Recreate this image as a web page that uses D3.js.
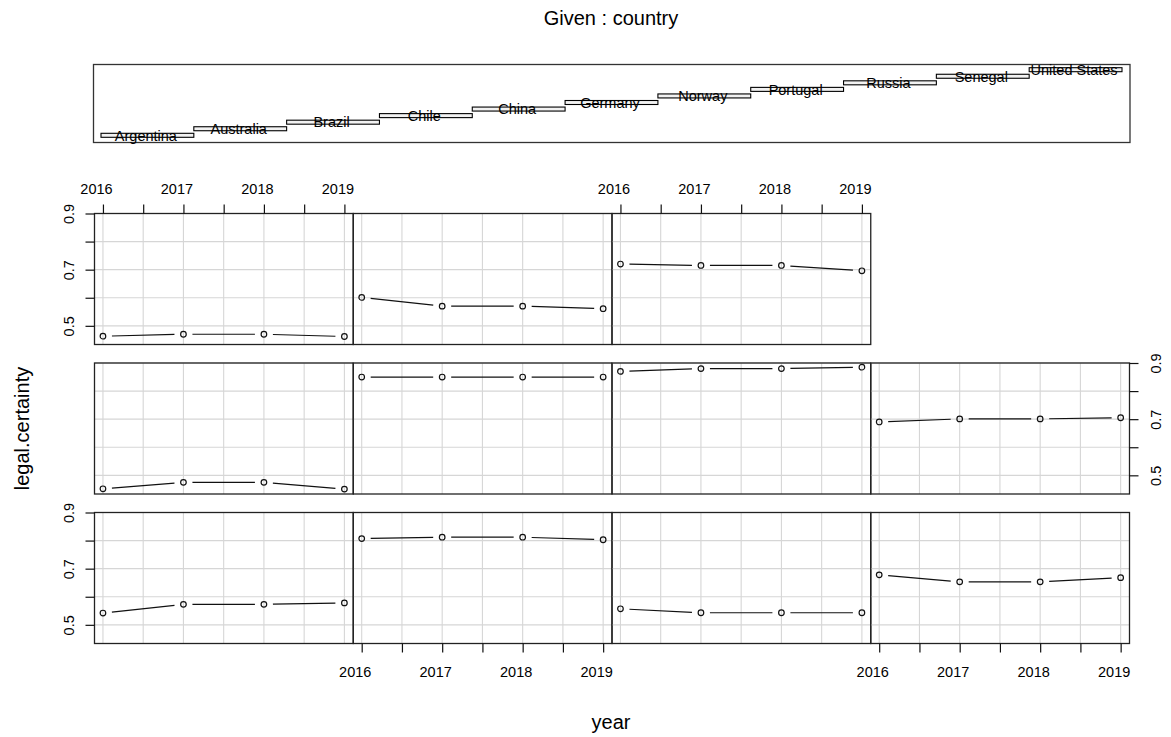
<!DOCTYPE html>
<html>
<head>
<meta charset="utf-8">
<script src="https://cdn.jsdelivr.net/npm/d3@7"></script>
<style>
  html, body { margin: 0; padding: 0; background: #fff; }
  svg { display: block; font-family: "Liberation Sans", Arial, sans-serif; }
</style>
</head>
<body>
<svg id="chart" width="1171" height="737"></svg>
<script>
// Conditioning levels (panel order: bottom-left → right, then upward)
const countries = ["Argentina", "Australia", "Brazil", "Chile", "China", "Germany",
                   "Norway", "Portugal", "Russia", "Senegal", "United States"];
const years = [2016, 2017, 2018, 2019];

// legal.certainty by year, one array per country
const argentina    = [0.542, 0.573, 0.573, 0.578];
const australia    = [0.807, 0.812, 0.812, 0.803];
const brazil       = [0.557, 0.543, 0.543, 0.543];
const chile        = [0.678, 0.653, 0.653, 0.668];
const china        = [0.452, 0.475, 0.475, 0.451];
const germany      = [0.850, 0.850, 0.850, 0.850];
const norway       = [0.870, 0.880, 0.880, 0.885];
const portugal     = [0.690, 0.701, 0.701, 0.705];
const russia       = [0.463, 0.470, 0.470, 0.462];
const senegal      = [0.601, 0.570, 0.570, 0.561];
const unitedStates = [0.720, 0.715, 0.715, 0.696];

const seriesList = [argentina, australia, brazil, chile, china, germany,
                    norway, portugal, russia, senegal, unitedStates];

// Axis ticks
const xTicks = [2016, 2016.5, 2017, 2017.5, 2018, 2018.5, 2019];
const xLabels = [2016, 2017, 2018, 2019];
const yTicks = [0.5, 0.6, 0.7, 0.8, 0.9];
const yLabels = [0.5, 0.7, 0.9];

const svg = d3.select("#chart");
const FONT = 14.5;
const INK = "#000";

// ---- layout ----
const nCols = 4;
const plotLeft = 94.5, plotRight = 1129.5;
const colW = (plotRight - plotLeft) / nCols;
const rowTops = [213.5, 363, 512.5];   // top, middle, bottom row
const rowH = 131;

const x = d3.scaleLinear().domain([2015.895, 2019.11]).range([0, colW]);
const y = d3.scaleLinear().domain([0.4335, 0.9]).range([rowH, 0]);

// ---- titles ----
svg.append("text").attr("x", 611).attr("y", 25).attr("text-anchor", "middle")
  .attr("font-size", 20).attr("fill", INK).text("Given : country");
svg.append("text").attr("x", 611).attr("y", 729).attr("text-anchor", "middle")
  .attr("font-size", 20).attr("fill", INK).text("year");
svg.append("text").attr("transform", "translate(29,428.5) rotate(-90)")
  .attr("text-anchor", "middle").attr("font-size", 20).attr("fill", INK)
  .text("legal.certainty");

// ---- given panel (country levels) ----
const gp = { left: 93.5, right: 1130, top: 64.5, bottom: 142.5 };
svg.append("rect").attr("x", gp.left).attr("y", gp.top)
  .attr("width", gp.right - gp.left).attr("height", gp.bottom - gp.top)
  .attr("fill", "none").attr("stroke", "#333").attr("stroke-width", 1.3);

const gx = d3.scaleLinear().domain([0.5, countries.length + 0.5]).range([101, 1122]);
const gy = d3.scaleLinear().domain([1, countries.length]).range([135.3, 69.7]);

const bars = svg.append("g");
countries.forEach((c, i) => {
  const lvl = i + 1;
  bars.append("rect")
    .attr("x", gx(lvl - 0.5)).attr("y", gy(lvl) - 2)
    .attr("width", gx(lvl + 0.5) - gx(lvl - 0.5)).attr("height", 4)
    .attr("fill", "#f2f2f2").attr("stroke", INK).attr("stroke-width", 1.1);
  bars.append("text")
    .attr("x", gx(lvl) - 1.5).attr("y", gy(lvl) + 5.3)
    .attr("text-anchor", "middle").attr("font-size", FONT).attr("fill", INK)
    .text(c);
});

// ---- conditioning panels ----
// panel index -> (row, col); row 0 = bottom
const panelPos = countries.map((c, i) => ({ r: Math.floor(i / nCols), c: i % nCols }));

const fmt = d3.format(".1f");

panelPos.forEach((pos, i) => {
  const top = rowTops[2 - pos.r];
  const left = plotLeft + pos.c * colW;
  const g = svg.append("g").attr("transform", `translate(${left},${top})`);

  // grid
  g.append("g").selectAll("line.v").data(xTicks).join("line")
    .attr("x1", d => x(d)).attr("x2", d => x(d)).attr("y1", 0).attr("y2", rowH)
    .attr("stroke", "#d6d6d6").attr("stroke-width", 1.1);
  g.append("g").selectAll("line.h").data(yTicks).join("line")
    .attr("x1", 0).attr("x2", colW).attr("y1", d => y(d)).attr("y2", d => y(d))
    .attr("stroke", "#d6d6d6").attr("stroke-width", 1.1);

  // data: line segments with gaps around points (type "b")
  const vals = seriesList[i];
  const pts = years.map((yr, k) => [x(yr), y(vals[k])]);
  const gap = 9;
  for (let k = 0; k < pts.length - 1; k++) {
    const [x1, y1] = pts[k], [x2, y2] = pts[k + 1];
    const d = Math.hypot(x2 - x1, y2 - y1);
    if (d <= 2 * gap) continue;
    const ux = (x2 - x1) / d, uy = (y2 - y1) / d;
    g.append("line")
      .attr("x1", x1 + ux * gap).attr("y1", y1 + uy * gap)
      .attr("x2", x2 - ux * gap).attr("y2", y2 - uy * gap)
      .attr("stroke", "#111").attr("stroke-width", 1.2);
  }
  g.selectAll("circle").data(pts).join("circle")
    .attr("cx", d => d[0]).attr("cy", d => d[1]).attr("r", 2.8)
    .attr("fill", "none").attr("stroke", "#111").attr("stroke-width", 1.2);

  // frame
  g.append("rect").attr("x", 0).attr("y", 0).attr("width", colW).attr("height", rowH)
    .attr("fill", "none").attr("stroke", "#222").attr("stroke-width", 1.3);

  const rowFromTop = 2 - pos.r;

  // top axis: top row, alternating columns
  if (rowFromTop === 0 && pos.c % 2 === 0) {
    const ax = g.append("g").call(
      d3.axisTop(x).tickValues(xTicks).tickSize(9).tickSizeOuter(0)
        .tickFormat(d => xLabels.includes(d) ? String(d) : ""));
    styleAxis(ax);
    ax.selectAll("text").attr("y", -20).attr("dy", 0).attr("dx", -7);
  }
  // bottom axis: bottom row, alternating columns
  if (rowFromTop === 2 && pos.c % 2 === 1) {
    const ax = g.append("g").attr("transform", `translate(0,${rowH})`).call(
      d3.axisBottom(x).tickValues(xTicks).tickSize(9).tickSizeOuter(0)
        .tickFormat(d => xLabels.includes(d) ? String(d) : ""));
    styleAxis(ax);
    ax.selectAll("text").attr("y", 33).attr("dy", 0).attr("dx", -7);
  }
  // left axis: first column of top and bottom rows
  if (pos.c === 0 && rowFromTop !== 1) {
    const ax = g.append("g").call(
      d3.axisLeft(y).tickValues(yTicks).tickSize(9).tickSizeOuter(0)
        .tickFormat(d => yLabels.includes(d) ? fmt(d) : ""));
    styleAxis(ax);
    ax.selectAll("text").attr("x", null).attr("dy", 0)
      .attr("text-anchor", "middle").attr("transform", "translate(-21,0) rotate(-90)");
  }
  // right axis: last column of the middle row
  if (pos.c === nCols - 1 && rowFromTop === 1) {
    const ax = g.append("g").attr("transform", `translate(${colW},0)`).call(
      d3.axisRight(y).tickValues(yTicks).tickSize(9).tickSizeOuter(0)
        .tickFormat(d => yLabels.includes(d) ? fmt(d) : ""));
    styleAxis(ax);
    ax.selectAll("text").attr("x", null).attr("dy", 0)
      .attr("text-anchor", "middle").attr("transform", "translate(31.5,0) rotate(-90)");
  }
});

function styleAxis(ax) {
  ax.select(".domain").remove();
  ax.selectAll("line").attr("stroke", "#111").attr("stroke-width", 1.2);
  ax.selectAll("text").attr("font-size", FONT).attr("fill", INK)
    .attr("font-family", "Liberation Sans, Arial, sans-serif");
}
</script>
</body>
</html>
